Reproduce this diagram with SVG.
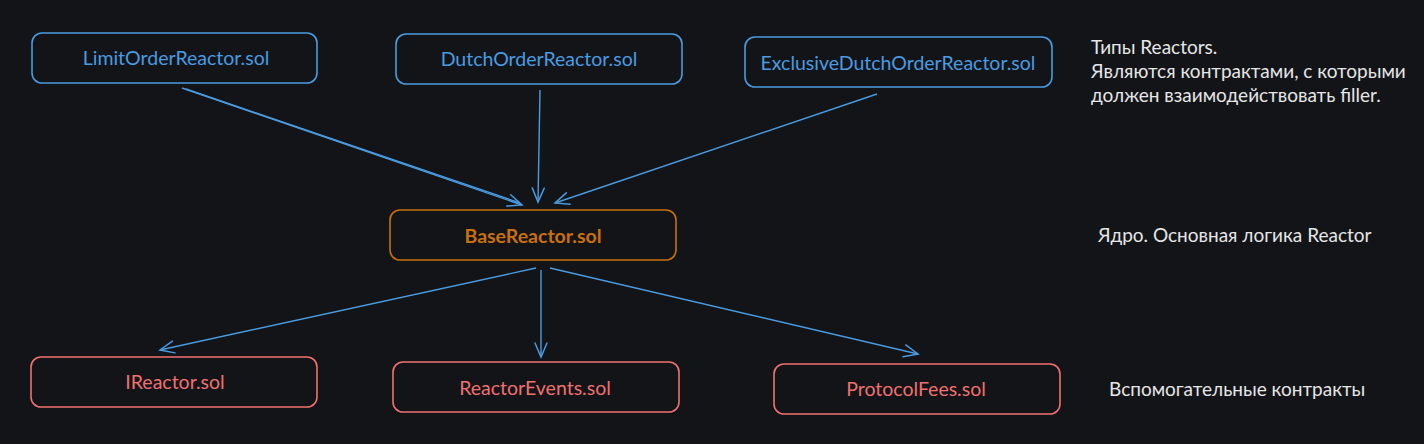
<svg xmlns="http://www.w3.org/2000/svg" width="1424" height="444" viewBox="0 0 1424 444">
<style>
.box{fill:none;stroke-width:1.6}
.blue{stroke:#4a9be0}
.orange{stroke:#c8700d}
.red{stroke:#f07070}
.lbl{font-family:"Lato","Liberation Sans",sans-serif;font-size:19.5px;text-anchor:middle;dominant-baseline:central}
.tb{fill:#4a9be0}.to{fill:#c8700d;font-weight:bold}.tr{fill:#f07070}
.note{font-family:"Lato","Liberation Sans",sans-serif;font-size:19px;fill:#e6e6e6}
.conn{stroke:#4a9be0;stroke-width:1.4;fill:none}
</style>
<defs>
<marker id="ah" viewBox="0 0 20 20" refX="18" refY="10" markerWidth="20" markerHeight="20" markerUnits="userSpaceOnUse" orient="auto">
<path d="M4,4 L18,10 L4,16" fill="none" stroke="#4a9be0" stroke-width="1.5" stroke-linecap="round"/>
</marker>
</defs>
<rect width="1424" height="444" fill="#121418"/>
<g id="connectors">
<line class="conn" x1="182" y1="88" x2="522" y2="205" marker-end="url(#ah)"/>
<line class="conn" x1="186" y1="89" x2="520" y2="203"/>
<line class="conn" x1="540" y1="90" x2="538" y2="202" marker-end="url(#ah)"/>
<line class="conn" x1="877" y1="94" x2="555" y2="203" marker-end="url(#ah)"/>
<line class="conn" x1="536" y1="268" x2="160" y2="350" marker-end="url(#ah)"/>
<line class="conn" x1="541" y1="270" x2="541" y2="357" marker-end="url(#ah)"/>
<line class="conn" x1="550" y1="268" x2="918" y2="354" marker-end="url(#ah)"/>
</g>
<g id="limit">
<rect class="box blue" x="32" y="33" width="285" height="50" rx="10"/>
<text class="lbl tb" x="176" y="57">LimitOrderReactor.sol</text>
</g>
<g id="dutch">
<rect class="box blue" x="396" y="34" width="286" height="50" rx="10"/>
<text class="lbl tb" x="539" y="58">DutchOrderReactor.sol</text>
</g>
<g id="exclusive">
<rect class="box blue" x="745" y="37" width="307" height="50" rx="10"/>
<text class="lbl tb" x="898" y="62">ExclusiveDutchOrderReactor.sol</text>
</g>
<g id="base">
<rect class="box orange" x="390" y="210" width="286" height="50" rx="10"/>
<text class="lbl to" x="533" y="235">BaseReactor.sol</text>
</g>
<g id="ireactor">
<rect class="box red" x="31" y="357" width="286" height="50" rx="10"/>
<text class="lbl tr" x="175" y="381">IReactor.sol</text>
</g>
<g id="events">
<rect class="box red" x="393" y="362" width="286" height="50" rx="10"/>
<text class="lbl tr" x="535" y="387">ReactorEvents.sol</text>
</g>
<g id="fees">
<rect class="box red" x="774" y="364" width="286" height="50" rx="10"/>
<text class="lbl tr" x="916" y="388">ProtocolFees.sol</text>
</g>
<g id="note-types">
<text class="note" x="1091" y="54">Типы Reactors.</text>
<text class="note" x="1091" y="78">Являются контрактами, с которыми</text>
<text class="note" x="1091" y="102">должен взаимодействовать filler.</text>
</g>
<g id="note-core">
<text class="note" x="1098" y="242">Ядро. Основная логика Reactor</text>
</g>
<g id="note-aux">
<text class="note" x="1109" y="396">Вспомогательные контракты</text>
</g>
</svg>
